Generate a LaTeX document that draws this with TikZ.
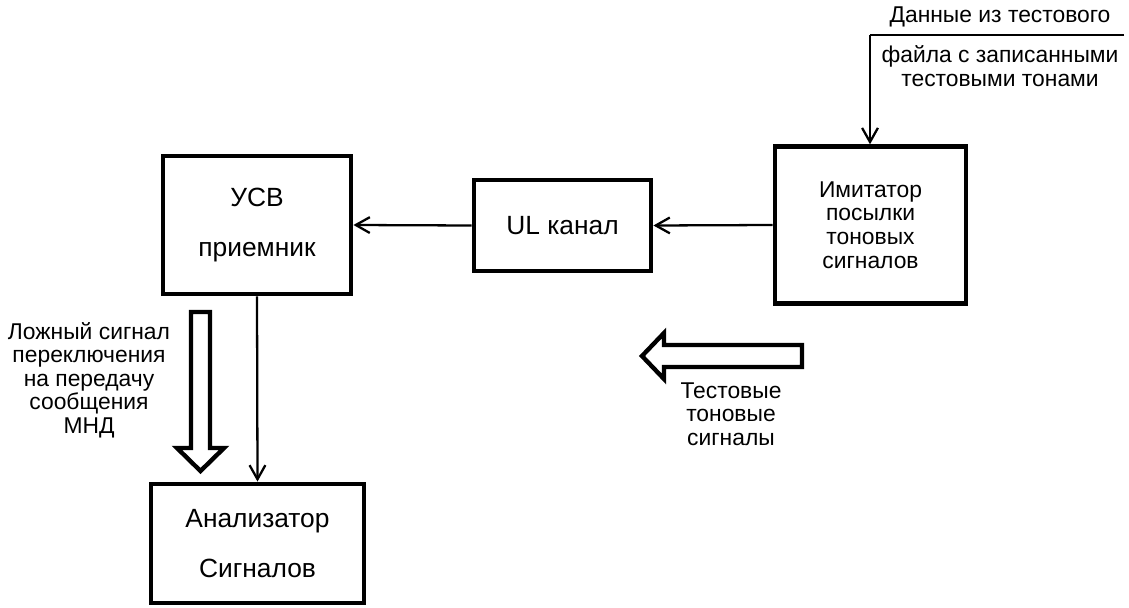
\documentclass[tikz,border=0pt]{standalone}
\usepackage{fontspec}
\setmainfont{Liberation Sans}
\usetikzlibrary{arrows.meta}

\begin{document}
\begin{tikzpicture}[x=0.02cm,y=-0.02cm,
box/.style={draw,line width=2.8pt,inner sep=0pt,align=center},
big/.style={font=\fontsize{15}{28}\selectfont},
txt/.style={align=center,inner sep=0pt,font=\fontsize{13}{13.4}\selectfont},
con/.style={line width=1.3pt,-{Straight Barb[length=8pt,width=9pt]}},
hollow/.style={line width=2.5pt,miter limit=10}]
\useasboundingbox(0,0)rectangle(1129,608);
\node[box,big,minimum width=3.76cm,minimum height=2.76cm](usv)at(257,225){УСВ\\приемник};
\node[box,big,minimum width=3.54cm,minimum height=1.82cm](ul)at(562.5,225.5){UL канал};
\node[box,txt,minimum width=3.82cm,minimum height=3.13cm](imi)at(870.5,225){Имитатор\\посылки\\тоновых\\сигналов};
\node[box,big,minimum width=4.26cm,minimum height=2.38cm](ana)at(257.5,543.5){Анализатор\\Сигналов};
\node[txt](dat)at(1000,17){Данные из тестового};
\node[txt](fil)at(1000,66){файла с записанными\\тестовыми тонами};
\node[txt](fls)at(89,380){Ложный сигнал\\переключения\\на передачу\\сообщения\\МНД};
\node[txt](tst)at(731,414){Тестовые\\тоновые\\сигналы};
\coordinate(src)at(870,35);\coordinate(end)at(1124,35);
\draw[line width=1.4pt](end)--(src);
\draw[con](src)--(src|-imi.north);
\draw[con](imi.west)--(ul.east);
\draw[con](ul.west)--(usv.east);
\draw[con](usv.south)--(ana.north);
\draw[hollow](191,312)--(210,312)--(210,448)--(224,448)--(200.5,471)--(177,448)--(191,448)--cycle;
\draw[hollow](802,345)--(802,367)--(664,367)--(664,379)--(642,356)--(664,333)--(664,345)--cycle;
\end{tikzpicture}
\end{document}
